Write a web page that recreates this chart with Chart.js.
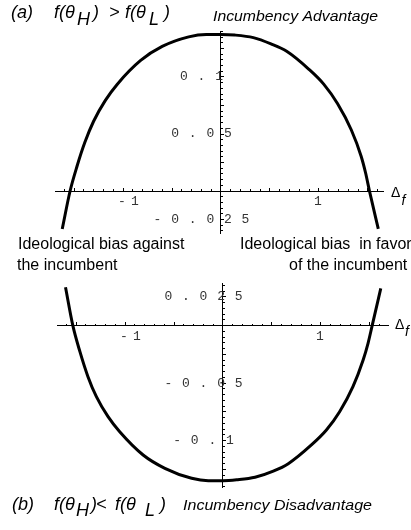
<!DOCTYPE html>
<html>
<head>
<meta charset="utf-8">
<script src="https://cdn.jsdelivr.net/npm/chart.js@4.4.1/dist/chart.umd.min.js"></script>
<style>
  html, body { margin: 0; padding: 0; background: #fff; }
  #wrap { position: relative; width: 411px; height: 530px; overflow: hidden; background: #fff; }
  canvas { position: absolute; left: 0; }
</style>
</head>
<body>
<div id="wrap">
  <canvas id="top" width="411" height="275" style="top:0px"></canvas>
  <canvas id="bot" width="411" height="275" style="top:255px"></canvas>
</div>
<script>
// ---------- data ----------
// Panel (a): incumbency advantage
const topDelta = [-1.62, -1.54, -1.47, -1.39, -1.30, -1.18, -1.06, -0.82, -0.60, -0.33, -0.15, 0, 0.14, 0.33, 0.51, 0.67, 0.90, 1.05, 1.19, 1.33, 1.43, 1.475, 1.515, 1.605];
const topValue = [-0.0333, 0, 0.0215, 0.0425, 0.0612, 0.0795, 0.0935, 0.1145, 0.1268, 0.1352, 0.1373, 0.1373, 0.1368, 0.1345, 0.129, 0.1225, 0.1065, 0.0935, 0.0765, 0.0535, 0.0305, 0.016, 0, -0.0333];
// Panel (b): incumbency disadvantage
const botDelta = [-1.607, -1.532, -1.46, -1.378, -1.292, -1.173, -1.054, -0.815, -0.593, -0.32, -0.15, 0, 0.14, 0.327, 0.513, 0.666, 0.902, 1.055, 1.19, 1.326, 1.43, 1.48, 1.522, 1.61];
const botValue = [0.0334, 0, -0.0226, -0.0443, -0.0617, -0.0791, -0.0922, -0.1124, -0.124, -0.1327, -0.1348, -0.1348, -0.134, -0.1318, -0.1265, -0.12, -0.1037, -0.0907, -0.0748, -0.053, -0.0298, -0.0153, 0, 0.0325];

// tick positions and labels
const xMajorTicks = [-1.5, -1, -0.5, 0, 0.5, 1, 1.5];
const xMinorTicks = [-1.6, -1.4, -1.3, -1.2, -1.1, -0.9, -0.8, -0.7, -0.6, -0.4, -0.3, -0.2, -0.1, 0.1, 0.2, 0.3, 0.4, 0.6, 0.7, 0.8, 0.9, 1.1, 1.2, 1.3, 1.4, 1.6];
const xLabelValues = [-1, 1];
const xLabels = ['-1', '1'];
const yMajorTicksTop = [-0.025, 0, 0.025, 0.05, 0.075, 0.1, 0.125];
const yMajorTicksBot = [0.025, 0, -0.025, -0.05, -0.075, -0.1, -0.125];
const yLabelValuesTop = [0.1, 0.05, -0.025];
const yLabelsTop = ['0.1', '0.05', '-0.025'];
const yLabelValuesBot = [0.025, -0.05, -0.1];
const yLabelsBot = ['0.025', '-0.05', '-0.1'];
const yMinorStep = 0.005;

// ---------- helpers ----------
function minorTicks(lo, hi, step, majors) {
  const out = [];
  const n0 = Math.ceil(lo / step - 1e-9), n1 = Math.floor(hi / step + 1e-9);
  for (let n = n0; n <= n1; n++) {
    const v = +(n * step).toFixed(6);
    if (!majors.some(m => Math.abs(m - v) < 1e-9)) out.push(v);
  }
  return out;
}

function makeScales(xr, yr, yMajor) {
  const yMinor = minorTicks(yr[0], yr[1], yMinorStep, yMajor);
  const g = (len) => ({ display: true, drawOnChartArea: false, drawTicks: true, tickLength: len, tickColor: '#000', tickWidth: 1 });
  return {
    x: { type: 'linear', min: xr[0], max: xr[1], position: { y: 0 }, grid: g(-4),
         border: { display: true, color: '#000', width: 1 }, ticks: { display: false, autoSkip: false },
         afterBuildTicks: s => { s.ticks = xMajorTicks.map(v => ({ value: v })); } },
    xm: { type: 'linear', axis: 'x', min: xr[0], max: xr[1], position: { y: 0 }, grid: g(-2),
         border: { display: false }, ticks: { display: false, autoSkip: false },
         afterBuildTicks: s => { s.ticks = xMinorTicks.map(v => ({ value: v })); } },
    y: { type: 'linear', min: yr[0], max: yr[1], position: { x: 0 }, grid: g(-4),
         border: { display: true, color: '#000', width: 1 }, ticks: { display: false, autoSkip: false },
         afterBuildTicks: s => { s.ticks = yMajor.map(v => ({ value: v })); } },
    ym: { type: 'linear', axis: 'y', min: yr[0], max: yr[1], position: { x: 0 }, grid: g(-2),
         border: { display: false }, ticks: { display: false, autoSkip: false },
         afterBuildTicks: s => { s.ticks = yMinor.map(v => ({ value: v })); } }
  };
}

function drawTexts(ctx, items) {
  items.forEach(t => {
    ctx.save();
    ctx.font = t.font;
    ctx.fillStyle = '#000';
    ctx.textAlign = 'left';
    ctx.textBaseline = 'alphabetic';
    if (t.w) {
      const m = ctx.measureText(t.s).width;
      ctx.translate(t.x, t.y);
      ctx.scale(t.w / m, 1);
      ctx.fillText(t.s, 0, 0);
    } else {
      ctx.fillText(t.s, t.x, t.y);
    }
    ctx.restore();
  });
}

function tickLabelPlugin(yVals, yLabs, texts) {
  return {
    id: 'labels',
    afterDraw(chart) {
      const ctx = chart.ctx;
      const xs = chart.scales.x, ys = chart.scales.y;
      const x0 = xs.getPixelForValue(0), y0 = ys.getPixelForValue(0);
      ctx.save();
      ctx.font = '13px "Liberation Mono", "DejaVu Sans Mono", monospace';
      ctx.fillStyle = '#333';
      ctx.textAlign = 'center';
      ctx.textBaseline = 'middle';
      yVals.forEach((v, i) => {
        const chars = yLabs[i].split('');
        const n = chars.length;
        const cx = x0 - 19.5, py = ys.getPixelForValue(v);
        chars.forEach((c, k) => ctx.fillText(c, cx + (k - (n - 1) / 2) * 17.6, py));
      });
      xLabelValues.forEach((v, i) => {
        const chars = xLabels[i].split('');
        const px = xs.getPixelForValue(v);
        chars.forEach((c, k) => ctx.fillText(c, px - 1 + k * 13, y0 + 10.5));
      });
      ctx.restore();
      drawTexts(ctx, texts);
    }
  };
}

const SANS = '"Liberation Sans", Arial, sans-serif';
const topTexts = [
  { s: '(a)', x: 11, y: 18, font: 'italic 18px ' + SANS },
  { s: 'f(θ', x: 54, y: 18, font: 'italic 18px ' + SANS },
  { s: 'H', x: 77, y: 25, font: 'italic 18px ' + SANS },
  { s: ')', x: 93, y: 18, font: 'italic 18px ' + SANS },
  { s: '>', x: 109, y: 18, font: 'italic 18px ' + SANS },
  { s: 'f(θ', x: 125, y: 18, font: 'italic 18px ' + SANS },
  { s: 'L', x: 149, y: 25, font: 'italic 18px ' + SANS },
  { s: ')', x: 164, y: 18, font: 'italic 18px ' + SANS },
  { s: 'Incumbency Advantage', x: 213, y: 20.5, font: 'italic 14px ' + SANS, w: 165 },
  { s: 'Ideological bias against', x: 18, y: 248.5, font: '16px ' + SANS },
  { s: 'the incumbent', x: 17, y: 270, font: '16px ' + SANS },
  { s: 'Ideological bias  in favor', x: 240, y: 248.5, font: '16px ' + SANS },
  { s: 'of the incumbent', x: 289, y: 270, font: '16px ' + SANS },
  { s: 'Δ', x: 391, y: 197, font: '14px ' + SANS },
  { s: 'f', x: 401.5, y: 205, font: 'italic 14px ' + SANS }
];
const OFF = 255;
const botTexts = [
  { s: '(b)', x: 12, y: 509.5 - OFF, font: 'italic 18px ' + SANS },
  { s: 'f(θ', x: 54, y: 509.5 - OFF, font: 'italic 18px ' + SANS },
  { s: 'H', x: 76, y: 515.5 - OFF, font: 'italic 18px ' + SANS },
  { s: ')', x: 91, y: 509.5 - OFF, font: 'italic 18px ' + SANS },
  { s: '<', x: 96, y: 509.5 - OFF, font: 'italic 18px ' + SANS },
  { s: 'f(θ', x: 115, y: 509.5 - OFF, font: 'italic 18px ' + SANS },
  { s: 'L', x: 145, y: 515.5 - OFF, font: 'italic 18px ' + SANS },
  { s: ')', x: 160, y: 509.5 - OFF, font: 'italic 18px ' + SANS },
  { s: 'Incumbency Disadvantage', x: 183, y: 509.5 - OFF, font: 'italic 15px ' + SANS, w: 189 },
  { s: 'Δ', x: 395, y: 329 - OFF, font: '14px ' + SANS },
  { s: 'f', x: 405, y: 336 - OFF, font: 'italic 14px ' + SANS }
];

function makeChart(id, xs, ys, xr, yr, yMajor, pad, yVals, yLabs, texts) {
  return new Chart(document.getElementById(id), {
    type: 'scatter',
    data: {
      datasets: [{
        data: xs.map((x, i) => ({ x: x, y: ys[i] })),
        showLine: true,
        borderColor: '#000',
        borderWidth: 3,
        pointRadius: 0,
        cubicInterpolationMode: 'monotone',
        fill: false
      }]
    },
    options: {
      responsive: false,
      devicePixelRatio: 1,
      animation: false,
      layout: { padding: pad },
      plugins: { legend: { display: false }, tooltip: { enabled: false } },
      scales: makeScales(xr, yr, yMajor)
    },
    plugins: [tickLabelPlugin(yVals, yLabs, texts)]
  });
}

// Panel (a): y-axis at 221px, x-axis at 191px; 98 px per unit, 1140 px per unit of f
makeChart('top', topDelta, topValue, [-1.6939, 1.6531], [-0.03684, 0.14035], yMajorTicksTop,
  { left: 55, right: 28, top: 31, bottom: 42 }, yLabelValuesTop, yLabelsTop, topTexts);
// Panel (b): y-axis at 223px, x-axis at 325.7px (page)
makeChart('bot', botDelta, botValue, [-1.6939, 1.6837], [-0.14026, 0.03713], yMajorTicksBot,
  { left: 57, right: 23, top: 28, bottom: 43 }, yLabelValuesBot, yLabelsBot, botTexts);
</script>
</body>
</html>
